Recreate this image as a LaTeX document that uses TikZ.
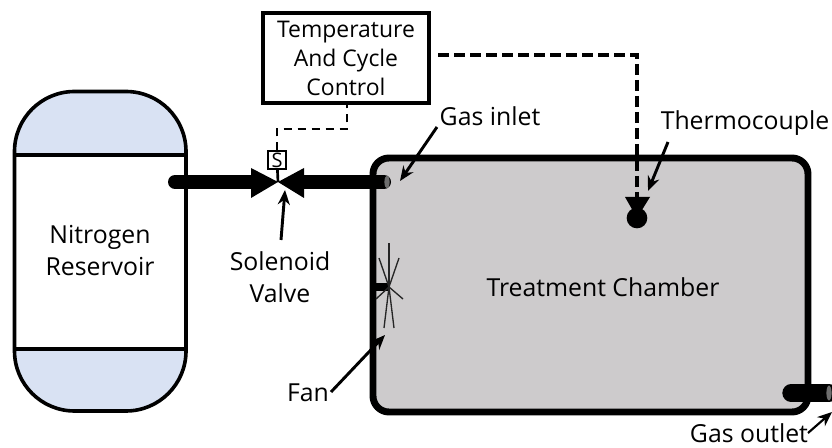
\documentclass[tikz,border=0pt]{standalone}
\usepackage{fontspec}
\setmainfont{Open Sans}
\usetikzlibrary{arrows.meta}
\definecolor{domeblue}{HTML}{D9E2F3}
\definecolor{chambergray}{HTML}{CDCBCC}
\definecolor{pipeend}{HTML}{6E6E6E}
\newcommand{\reservoiroutline}{(14.5,91.5) rectangle (186,411)}

\begin{document}
\begin{tikzpicture}[x=.75pt,y=-.75pt,line width=2.7pt]
\tikzstyle{lbl}=[align=center,inner sep=0pt,font=\fontsize{18.6}{24}\selectfont]
\tikzstyle{pointer}=[line width=2.2pt,-{Stealth[length=11pt,width=9pt]}]
\tikzstyle{pipe}=[line width=10.5pt,line cap=round]
\tikzstyle{signal}=[dash pattern=on 6.5pt off 4pt]
\tikzstyle{blade}=[line width=1pt,draw=black!85]
\useasboundingbox (0,0) rectangle (832,448);

% reservoir
\fill[white,rounded corners=45pt] \reservoiroutline;
\begin{scope}
\clip[rounded corners=45pt] \reservoiroutline;
\fill[domeblue] (14,91) rectangle (187,155);
\fill[domeblue] (14,349) rectangle (187,412);
\end{scope}
\draw[rounded corners=45pt] \reservoiroutline;
\draw (14.5,155) coordinate (r1) (186,155) coordinate (r2);
\draw (14.5,349) coordinate (r3) (186,349) coordinate (r4);
\draw (r1) -- (r2) (r3) -- (r4);
\draw (100,251) node[lbl] (reservoir) {Nitrogen\\Reservoir};

% chamber
\draw[fill=chambergray,line width=5.2pt,rounded corners=12pt] (373,158) rectangle (808,412);
\draw (603,287) node[lbl] (chamber) {Treatment Chamber};

% pipes and valve
\draw (175,182) coordinate (p1) (262,182) coordinate (p2);
\draw (295,182) coordinate (p3) (384,182) coordinate (p4);
\draw[pipe] (p1) -- (p2);
\draw[pipe] (p3) -- (p4);
\draw[fill=pipeend,draw=none] (p4)++(3,0) ellipse (2.6 and 6.5);
\draw (278,182) coordinate (tip);
\fill (tip) -- (251,168) -- (251,198) -- cycle;
\fill (tip) -- (304,168) -- (304,198) -- cycle;
\draw (277,160) node[draw,line width=1pt,minimum size=13.5pt,inner sep=0pt,font=\fontsize{15}{15}\selectfont] (sol) {S};
\draw[line width=2pt] (sol) -- (tip);

% control box
\draw (346,58) node[draw,fill=white,align=center,minimum width=124.5pt,minimum height=67.5pt,inner sep=0pt,font=\fontsize{17.2}{21.75}\selectfont] (control) {Temperature\\And Cycle\\Control};
\draw (277,129) coordinate (c1) (347,129) coordinate (c2);
\draw[signal,line width=2.2pt] (sol) -- (c1) -- (c2) -- (control.south -| c2);
\draw (438,55) coordinate (c0) (637,55) coordinate (c3) (637,200) coordinate (c4);
\draw[signal,line width=3pt,dash pattern=on 8pt off 4pt] (c0) -- (c3) -- (c4);

% thermocouple
\draw (637,218) node[circle,fill=black,minimum size=15.5pt,inner sep=0pt] (bead) {};
\fill (625,197) -- (650,197) -- (637,218) -- cycle;

% fan
\draw (389,287) coordinate (hub) (374,287) coordinate (wall);
\draw[line width=6pt] (wall) -- (hub);
\foreach \bx/\by in {389/243,379/258,399/258,384/328,394/328,376/299,403/299}
  \draw[blade] (hub) -- (\bx,\by);

% gas outlet
\draw (791,393) coordinate (o1) (829,393) coordinate (o2);
\draw[line width=13pt,line cap=round] (o1) -- (o2);
\draw[fill=pipeend,draw=none] (o2) ellipse (2.6 and 7.5);

% labels and pointers
\draw (490,116) node[lbl] (inlet) {Gas inlet};
\draw (745,123) node[lbl] (thermo) {Thermocouple};
\draw (280,277) node[lbl] (valve) {Solenoid\\Valve};
\draw (308,393) node[lbl] (fan) {Fan};
\draw (749,433) node[lbl] (outlet) {Gas outlet};
\draw (437,127) coordinate (s1) (668,142) coordinate (s2) (281,240) coordinate (s3);
\draw (331,392) coordinate (s4) (808,433) coordinate (s5);
\draw (400,181) coordinate (a1) (648,191) coordinate (a2) (285,190) coordinate (a3);
\draw (385,335) coordinate (a4) (832,412) coordinate (a5);
\draw[pointer] (s1) -- (a1);
\draw[pointer] (s2) -- (a2);
\draw[pointer] (s3) -- (a3);
\draw[pointer] (s4) -- (a4);
\draw[pointer,line width=1.6pt] (s5) -- (a5);
\end{tikzpicture}
\end{document}
